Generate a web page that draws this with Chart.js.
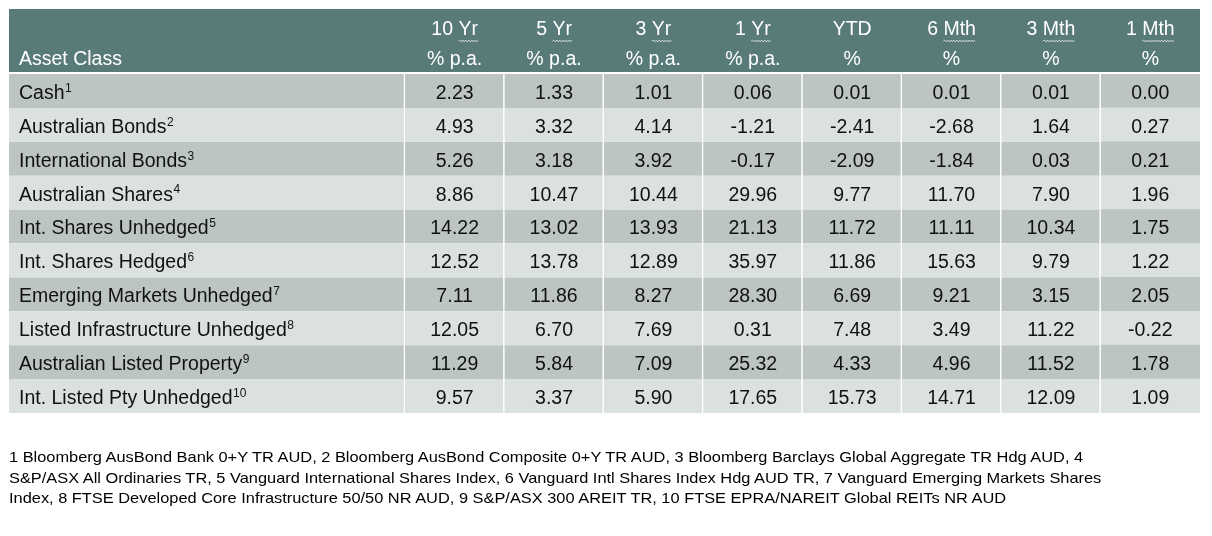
<!DOCTYPE html>
<html>
<head>
<meta charset="utf-8">
<script src="https://cdn.jsdelivr.net/npm/chart.js@4"></script>
<style>
  body { margin: 0; background: #fff; }
  #wrap { position: relative; width: 1212px; height: 536px; }
  #notes {
    position: absolute; left: 9px; top: 447px;
    font: 14.5px "Liberation Sans", Arial, sans-serif;
    line-height: 20.5px; color: #000; white-space: nowrap;
    transform: scaleX(1.13); transform-origin: 0 0;
  }
</style>
</head>
<body>
<div id="wrap">
  <canvas id="tbl" width="1212" height="536"></canvas>
  <div id="notes"></div>
</div>
<script>
// table content
const assetClasses = [
    'Cash', 'Australian Bonds', 'International Bonds', 'Australian Shares',
    'Int. Shares Unhedged', 'Int. Shares Hedged', 'Emerging Markets Unhedged',
    'Listed Infrastructure Unhedged', 'Australian Listed Property', 'Int. Listed Pty Unhedged'
];
const noteRefs = ['1', '2', '3', '4', '5', '6', '7', '8', '9', '10'];
const periods = ['10 Yr', '5 Yr', '3 Yr', '1 Yr', 'YTD', '6 Mth', '3 Mth', '1 Mth'];
const units = ['% p.a.', '% p.a.', '% p.a.', '% p.a.', '%', '%', '%', '%'];

const tenYr    = [2.23, 4.93, 5.26, 8.86, 14.22, 12.52, 7.11, 12.05, 11.29, 9.57];
const fiveYr   = [1.33, 3.32, 3.18, 10.47, 13.02, 13.78, 11.86, 6.70, 5.84, 3.37];
const threeYr  = [1.01, 4.14, 3.92, 10.44, 13.93, 12.89, 8.27, 7.69, 7.09, 5.90];
const oneYr    = [0.06, -1.21, -0.17, 29.96, 21.13, 35.97, 28.30, 0.31, 25.32, 17.65];
const ytd      = [0.01, -2.41, -2.09, 9.77, 11.72, 11.86, 6.69, 7.48, 4.33, 15.73];
const sixMth   = [0.01, -2.68, -1.84, 11.70, 11.11, 15.63, 9.21, 3.49, 4.96, 14.71];
const threeMth = [0.01, 1.64, 0.03, 7.90, 10.34, 9.79, 3.15, 11.22, 11.52, 12.09];
const oneMth   = [0.00, 0.27, 0.21, 1.96, 1.75, 1.22, 2.05, -0.22, 1.78, 1.09];

const footnotes = [
    '1 Bloomberg AusBond Bank 0+Y TR AUD, 2 Bloomberg AusBond Composite 0+Y TR AUD, 3 Bloomberg Barclays Global Aggregate TR Hdg AUD, 4',
    'S&P/ASX All Ordinaries TR, 5 Vanguard International Shares Index, 6 Vanguard Intl Shares Index Hdg AUD TR, 7 Vanguard Emerging Markets Shares',
    'Index, 8 FTSE Developed Core Infrastructure 50/50 NR AUD, 9 S&P/ASX 300 AREIT TR, 10 FTSE EPRA/NAREIT Global REITs NR AUD'
];

const columns = [tenYr, fiveYr, threeYr, oneYr, ytd, sixMth, threeMth, oneMth];

// layout / style
const LABEL_W = 396;
const COL_W = 99.4;
const HEADER_TOP = 9;
const HEADER_BOTTOM = 72;
const TEXT_DY = 2.5;   // nudge so "middle" sits like the original
const FONT = '"Liberation Sans", Arial, sans-serif';
const HEAD_BG = '#587a79';
const ROW_DARK = '#bcc5c3';
const ROW_LIGHT = '#dbe1e0';

document.getElementById('notes').innerHTML =
    footnotes.map(l => l.replace(/&/g, '&amp;')).join('<br>');

const rowColors = assetClasses.map((_, i) => i % 2 === 0 ? ROW_DARK : ROW_LIGHT);

const datasets = [{
    label: 'Asset Class',
    data: assetClasses.map(() => LABEL_W),
    backgroundColor: rowColors,
    borderColor: '#fff',
    borderWidth: { right: 1.5, left: 0, top: 0, bottom: 0 },
    borderSkipped: false
}].concat(columns.map((col, k) => ({
    label: periods[k],
    data: col.map(() => COL_W),
    values: col,
    backgroundColor: rowColors,
    borderColor: '#fff',
    borderWidth: { right: k < columns.length - 1 ? 1.5 : 0, left: 0, top: 0, bottom: 0 },
    borderSkipped: false
})));

function wavy(ctx, x0, x1, y) {
    ctx.beginPath();
    ctx.moveTo(x0, y);
    let up = true;
    for (let x = x0 + 1.5; x <= x1; x += 1.5) {
        ctx.lineTo(x, y + (up ? -1 : 1));
        up = !up;
    }
    ctx.stroke();
}

const tablePlugin = {
    id: 'tableText',
    afterDatasetsDraw(chart) {
        const ctx = chart.ctx;
        const area = chart.chartArea;
        ctx.save();

        // header band
        ctx.fillStyle = HEAD_BG;
        ctx.fillRect(area.left, HEADER_TOP, area.right - area.left, HEADER_BOTTOM - HEADER_TOP);
        ctx.fillStyle = '#fff';
        ctx.textBaseline = 'middle';
        ctx.font = '19.5px ' + FONT;
        ctx.textAlign = 'left';
        ctx.fillText('Asset Class', area.left + 10, 57 + TEXT_DY);

        // cell texts
        chart.data.datasets.forEach((ds, di) => {
            const meta = chart.getDatasetMeta(di);
            meta.data.forEach((bar, ri) => {
                const left = Math.min(bar.base, bar.x);
                const right = Math.max(bar.base, bar.x);
                const cx = (left + right) / 2;
                const cy = bar.y + TEXT_DY;
                ctx.fillStyle = '#111';
                if (di === 0) {
                    ctx.textAlign = 'left';
                    ctx.font = '19.5px ' + FONT;
                    const name = assetClasses[ri];
                    ctx.fillText(name, left + 10, cy);
                    const w = ctx.measureText(name).width;
                    ctx.font = '12px ' + FONT;
                    ctx.fillText(noteRefs[ri], left + 10 + w + 0.5, cy - 5);
                } else {
                    ctx.textAlign = 'center';
                    ctx.font = '19.5px ' + FONT;
                    ctx.fillText(ds.values[ri].toFixed(2), cx, cy);
                }
                // header for this column
                if (ri === 0 && di > 0) {
                    ctx.fillStyle = '#fff';
                    ctx.font = '19.5px ' + FONT;
                    ctx.textAlign = 'center';
                    const p = periods[di - 1];
                    ctx.fillText(p, cx, 27 + TEXT_DY);
                    ctx.fillText(units[di - 1], cx, 57 + TEXT_DY);
                    const sp = p.indexOf(' ');
                    if (sp > 0) {
                        const full = ctx.measureText(p).width;
                        const pre = ctx.measureText(p.slice(0, sp + 1)).width;
                        const x0 = cx - full / 2 + pre;
                        ctx.strokeStyle = '#dfe6e5';
                        ctx.lineWidth = 0.8;
                        wavy(ctx, x0, cx + full / 2, 41);
                    }
                }
            });
        });
        ctx.restore();
    }
};

new Chart(document.getElementById('tbl'), {
    type: 'bar',
    data: { labels: assetClasses, datasets },
    options: {
        indexAxis: 'y',
        responsive: false,
        animation: false,
        events: [],
        layout: { padding: { left: 9, right: 12, top: 74, bottom: 123 } },
        plugins: { legend: { display: false }, tooltip: { enabled: false } },
        datasets: { bar: { barPercentage: 1, categoryPercentage: 1 } },
        scales: {
            x: { stacked: true, display: false, min: 0, max: LABEL_W + COL_W * columns.length },
            y: { stacked: true, display: false }
        }
    },
    plugins: [tablePlugin]
});
</script>
</body>
</html>
